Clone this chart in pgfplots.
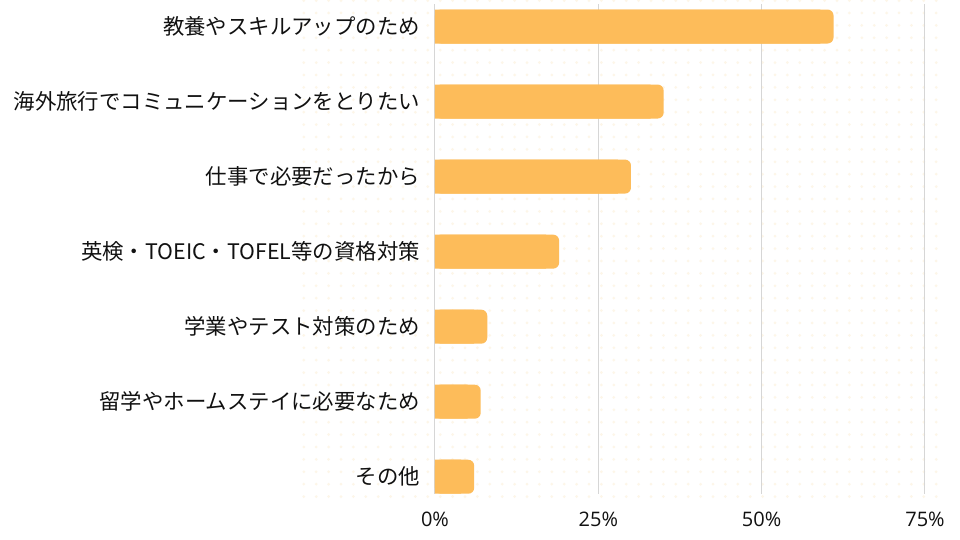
\documentclass[border=0pt]{standalone}
\usepackage{fontspec}
\setmainfont{Open Sans}
\newfontfamily\cjk{Noto Sans CJK JP}
\usepackage{pgfplots}
\usepackage{pgfplotstable}
\pgfplotsset{compat=1.18}
\usetikzlibrary{patterns.meta}

\definecolor{barorange}{HTML}{FDBC5A}
\definecolor{gridgray}{HTML}{D6D6D6}
\definecolor{dotcol}{HTML}{FDF6E8}
\definecolor{labelcol}{HTML}{111111}

\tikzdeclarepattern{
  name=softdots,
  type=uncolored,
  bottom left={(-.1pt,-.1pt)},
  top right={(6.2pt,6.2pt)},
  tile size={(6.2pt,6.2pt)},
  code={\fill (3.1pt,3.1pt) circle (0.75pt);}
}

\pgfplotstableread{
c v
0 61
1 35
2 30
3 19
4 8
5 7
6 6
}\reasons

\begin{document}
\begin{tikzpicture}
\path[use as bounding box, fill=white] (0,0) rectangle (480pt,270pt);
\fill[pattern=softdots, pattern color=dotcol] (150pt,20pt) rectangle (472pt,270pt);
\begin{axis}[
    at={(217.5pt,23pt)}, anchor=south west,
    width=245pt, height=245pt, scale only axis,
    xbar, bar shift=0pt, bar width=17pt,
    xmin=0, xmax=75,
    ymin=-0.3, ymax=6.23, y dir=reverse,
    axis line style={draw=none},
    xtick={0,25,50,75},
    xmajorgrids=true,
    grid style={gridgray, line width=0.5pt},
    major tick length=0pt,
    xticklabel={\pgfmathprintnumber{\tick}\%},
    /pgf/number format/assume math mode=true,
    xticklabel style={font=\fontsize{10}{12}\selectfont, text=labelcol, yshift=-5.5pt},
    ytick={0,...,6},
    yticklabels={教養やスキルアップのため,海外旅行でコミュニケーションをとりたい,仕事で必要だったから,英検・TOEIC・TOFEL等の資格対策,学業やテスト対策のため,留学やホームステイに必要なため,その他},
    yticklabel style={font=\cjk\fontsize{10.7}{12}\selectfont, text=labelcol, xshift=-4pt},
    clip=false,
]
\addplot[fill=barorange, draw=none, rounded corners=3pt] table[x=v, y=c] {\reasons};
\addplot[fill=barorange, draw=none] table[x expr=\thisrow{v}-2, y=c] {\reasons};
\end{axis}
\end{tikzpicture}
\end{document}
